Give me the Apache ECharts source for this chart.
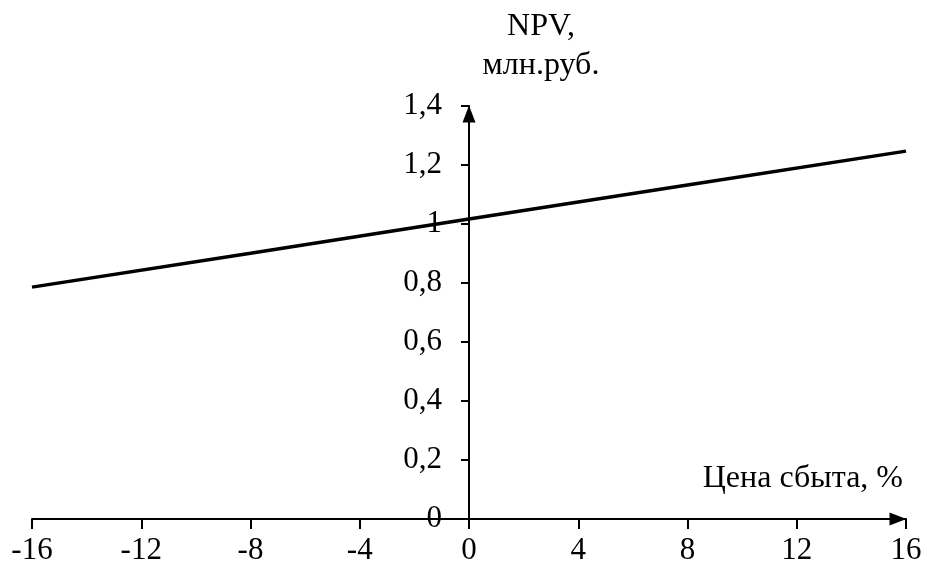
<!DOCTYPE html>
<html>
<head>
<meta charset="utf-8">
<script src="https://cdn.jsdelivr.net/npm/echarts@6/dist/echarts.min.js"></script>
<style>
  html, body { margin: 0; padding: 0; background: #fff; }
  #main { width: 927px; height: 572px; }
</style>
</head>
<body>
<div id="main"></div>
<script>
// изменение цены сбыта, %
var priceChange = [-16, -8, 0, 8, 16];
// NPV, млн.руб.
var npvValues = [0.786, 0.901, 1.017, 1.132, 1.247];

var yTitle = ['NPV,', 'млн.руб.'];
var xTitle = 'Цена сбыта, %';

var font = 'Liberation Serif, Times New Roman, serif';

var data = [];
for (var i = 0; i < priceChange.length; i++) {
    data.push([priceChange[i], npvValues[i]]);
}

var myChart = echarts.init(document.getElementById('main'));
var option = {
    animation: false,
    backgroundColor: '#fff',
    grid: { left: 32, right: 21, top: 106, bottom: 53, outerBoundsMode: 'none', containLabel: false },
    xAxis: {
        type: 'value',
        min: -16,
        max: 16,
        interval: 4,
        splitLine: { show: false },
        axisLine: {
            onZero: true,
            lineStyle: { color: '#000', width: 2 },
            symbol: ['none', 'triangle'],
            symbolSize: [13, 17],
            symbolOffset: [0, -8]
        },
        axisTick: { show: true, length: 10, lineStyle: { color: '#000', width: 2 } },
        axisLabel: { color: '#000', fontFamily: font, fontSize: 31, margin: 16 }
    },
    yAxis: {
        type: 'value',
        min: 0,
        max: 1.4,
        interval: 0.2,
        offset: -437,
        splitLine: { show: false },
        axisLine: {
            onZero: false,
            lineStyle: { color: '#000', width: 2 },
            symbol: ['none', 'triangle'],
            symbolSize: [13, 17],
            symbolOffset: [0, -8]
        },
        axisTick: { show: true, length: 8, lineStyle: { color: '#000', width: 2 } },
        axisLabel: {
            color: '#000', fontFamily: font, fontSize: 31, margin: 27,
            formatter: function (v) { return String(Math.round(v * 10) / 10).replace('.', ','); }
        }
    },
    graphic: [
        { type: 'text', x: 541, y: 27, style: { text: yTitle[0], font: '32px ' + font, fill: '#000', textAlign: 'center', textVerticalAlign: 'middle' } },
        { type: 'text', x: 541, y: 66, style: { text: yTitle[1], font: '32px ' + font, fill: '#000', textAlign: 'center', textVerticalAlign: 'middle' } },
        { type: 'text', x: 903, y: 479, style: { text: xTitle, font: '32px ' + font, fill: '#000', textAlign: 'right', textVerticalAlign: 'middle' } }
    ],
    series: [{
        type: 'line',
        data: data,
        showSymbol: false,
        symbol: 'none',
        lineStyle: { color: '#000', width: 3.5 }
    }]
};
myChart.setOption(option);
</script>
</body>
</html>
